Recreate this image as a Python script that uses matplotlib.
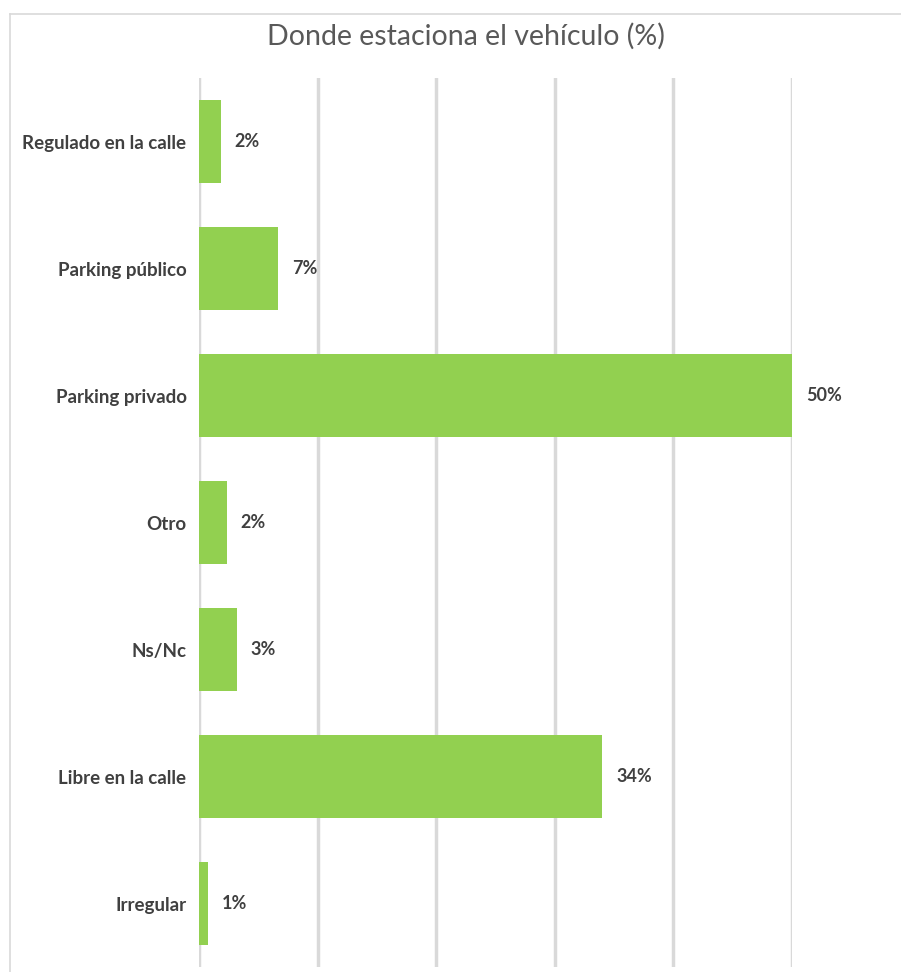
import matplotlib.pyplot as plt
from matplotlib.lines import Line2D

# data (top to bottom)
categories = ['Regulado en la calle', 'Parking público', 'Parking privado',
              'Otro', 'Ns/Nc', 'Libre en la calle', 'Irregular']
values = [1.85, 6.65, 50.0, 2.35, 3.2, 34.0, 0.75]
value_labels = ['2%', '7%', '50%', '2%', '3%', '34%', '1%']
grid_ticks = [0, 10, 20, 30, 40, 50]

plt.rcParams['font.family'] = ['Lato', 'DejaVu Sans']

fig = plt.figure(figsize=(9.01, 9.72), dpi=100)
ax = fig.add_axes([199/901, 1 - 967/972, (792 - 199)/901, (967 - 78)/972])

y = list(range(len(categories)))
ax.barh(y, values, height=0.65, color='#92d050', zorder=3)
ax.set_ylim(len(categories) - 0.5, -0.5)
ax.set_xlim(0, 50)
ax.set_yticks(y)
ax.set_yticklabels(categories, fontsize=13.5, fontweight='bold', color='#404040')
ax.tick_params(axis='y', length=0, pad=9)
ax.set_xticks(grid_ticks)
ax.tick_params(axis='x', length=0, labelbottom=False)
ax.grid(axis='x', color='#d9d9d9', linewidth=2.5, zorder=0)
for s in ax.spines.values():
    s.set_visible(False)

for yi, v, lab in zip(y, values, value_labels):
    ax.annotate(lab, (v, yi), xytext=(10, 0), textcoords='offset points',
                va='center', ha='left', fontsize=13, fontweight='bold',
                color='#404040', annotation_clip=False)

fig.text(466/901, 1 - 36/972, 'Donde estaciona el vehículo (%)', ha='center', va='center',
         fontsize=20.5, color='#595959')

# chart frame (top and left edges)
fig.add_artist(Line2D([10/901, 1], [1 - 14/972, 1 - 14/972], color='#d9d9d9', lw=1.2))
fig.add_artist(Line2D([10/901, 10/901], [0, 1 - 14/972], color='#d9d9d9', lw=1.2))

fig.savefig('out.png', dpi=100, facecolor='white')
